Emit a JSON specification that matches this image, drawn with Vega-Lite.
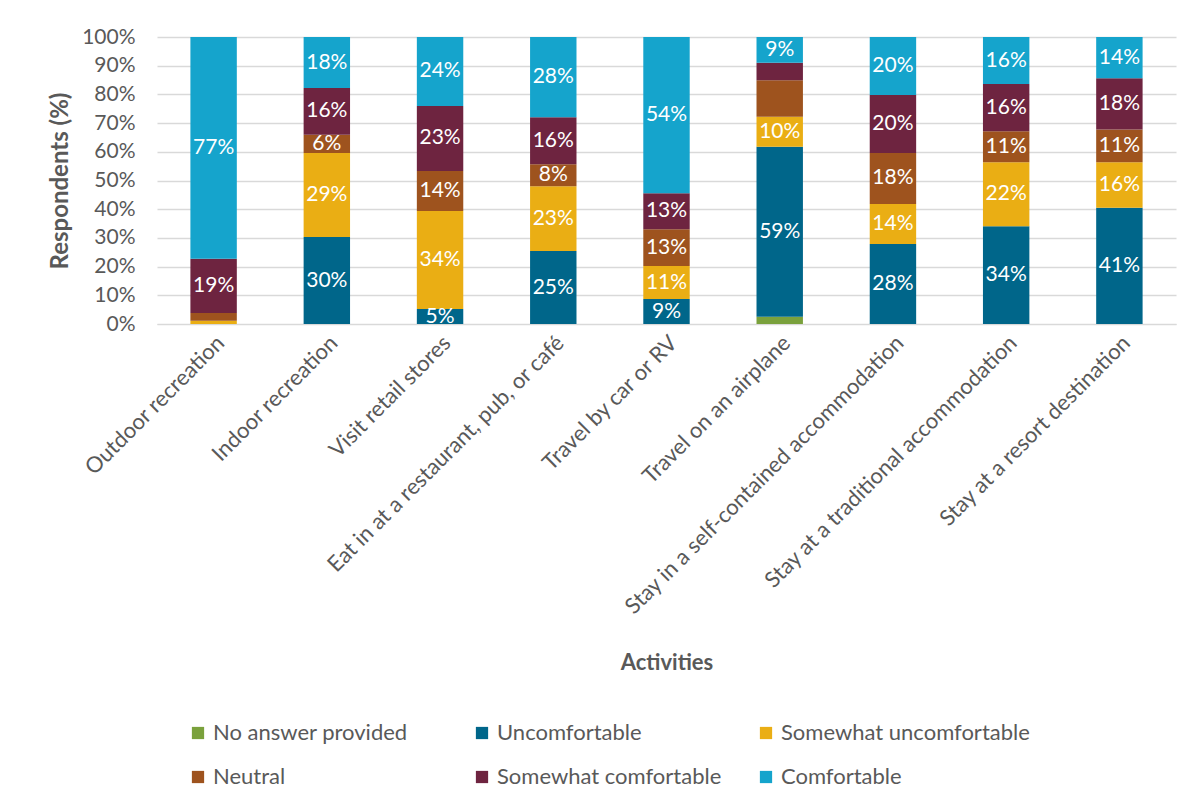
{
  "$schema": "https://vega.github.io/schema/vega-lite/v6.json",
  "width": 1019,
  "height": 287,
  "autosize": {"type": "none"},
  "padding": {"left": 157, "top": 37, "right": 19, "bottom": 485},
  "background": "white",
  "config": {
    "font": "Lato",
    "view": {"stroke": null},
    "axis": {"labelColor": "#595959", "titleColor": "#595959", "labelFont": "Lato", "titleFont": "Lato"},
    "legend": {"labelColor": "#595959", "labelFont": "Lato"}
  },
  "data": {
    "values": [
      {"activity": "Outdoor recreation", "response": "Somewhat uncomfortable", "rank": 2, "value": 1.1, "label": ""},
      {"activity": "Outdoor recreation", "response": "Neutral", "rank": 3, "value": 2.7, "label": ""},
      {"activity": "Outdoor recreation", "response": "Somewhat comfortable", "rank": 4, "value": 18.9, "label": "19%"},
      {"activity": "Outdoor recreation", "response": "Comfortable", "rank": 5, "value": 77.3, "label": "77%"},
      {"activity": "Indoor recreation", "response": "Uncomfortable", "rank": 1, "value": 30.3, "label": "30%"},
      {"activity": "Indoor recreation", "response": "Somewhat uncomfortable", "rank": 2, "value": 29.3, "label": "29%"},
      {"activity": "Indoor recreation", "response": "Neutral", "rank": 3, "value": 6.3, "label": "6%"},
      {"activity": "Indoor recreation", "response": "Somewhat comfortable", "rank": 4, "value": 16.3, "label": "16%"},
      {"activity": "Indoor recreation", "response": "Comfortable", "rank": 5, "value": 17.8, "label": "18%"},
      {"activity": "Visit retail stores", "response": "Uncomfortable", "rank": 1, "value": 5.2, "label": "5%"},
      {"activity": "Visit retail stores", "response": "Somewhat uncomfortable", "rank": 2, "value": 34.2, "label": "34%"},
      {"activity": "Visit retail stores", "response": "Neutral", "rank": 3, "value": 13.9, "label": "14%"},
      {"activity": "Visit retail stores", "response": "Somewhat comfortable", "rank": 4, "value": 22.7, "label": "23%"},
      {"activity": "Visit retail stores", "response": "Comfortable", "rank": 5, "value": 24.0, "label": "24%"},
      {"activity": "Eat in at a restaurant, pub, or café", "response": "Uncomfortable", "rank": 1, "value": 25.4, "label": "25%"},
      {"activity": "Eat in at a restaurant, pub, or café", "response": "Somewhat uncomfortable", "rank": 2, "value": 22.6, "label": "23%"},
      {"activity": "Eat in at a restaurant, pub, or café", "response": "Neutral", "rank": 3, "value": 7.7, "label": "8%"},
      {"activity": "Eat in at a restaurant, pub, or café", "response": "Somewhat comfortable", "rank": 4, "value": 16.3, "label": "16%"},
      {"activity": "Eat in at a restaurant, pub, or café", "response": "Comfortable", "rank": 5, "value": 28.0, "label": "28%"},
      {"activity": "Travel by car or RV", "response": "Uncomfortable", "rank": 1, "value": 8.7, "label": "9%"},
      {"activity": "Travel by car or RV", "response": "Somewhat uncomfortable", "rank": 2, "value": 11.5, "label": "11%"},
      {"activity": "Travel by car or RV", "response": "Neutral", "rank": 3, "value": 12.8, "label": "13%"},
      {"activity": "Travel by car or RV", "response": "Somewhat comfortable", "rank": 4, "value": 12.6, "label": "13%"},
      {"activity": "Travel by car or RV", "response": "Comfortable", "rank": 5, "value": 54.4, "label": "54%"},
      {"activity": "Travel on an airplane", "response": "No answer provided", "rank": 0, "value": 2.5, "label": ""},
      {"activity": "Travel on an airplane", "response": "Uncomfortable", "rank": 1, "value": 59.3, "label": "59%"},
      {"activity": "Travel on an airplane", "response": "Somewhat uncomfortable", "rank": 2, "value": 10.4, "label": "10%"},
      {"activity": "Travel on an airplane", "response": "Neutral", "rank": 3, "value": 12.7, "label": ""},
      {"activity": "Travel on an airplane", "response": "Somewhat comfortable", "rank": 4, "value": 6.1, "label": ""},
      {"activity": "Travel on an airplane", "response": "Comfortable", "rank": 5, "value": 9.0, "label": "9%"},
      {"activity": "Stay in a self-contained accommodation", "response": "Uncomfortable", "rank": 1, "value": 27.9, "label": "28%"},
      {"activity": "Stay in a self-contained accommodation", "response": "Somewhat uncomfortable", "rank": 2, "value": 13.9, "label": "14%"},
      {"activity": "Stay in a self-contained accommodation", "response": "Neutral", "rank": 3, "value": 17.8, "label": "18%"},
      {"activity": "Stay in a self-contained accommodation", "response": "Somewhat comfortable", "rank": 4, "value": 20.2, "label": "20%"},
      {"activity": "Stay in a self-contained accommodation", "response": "Comfortable", "rank": 5, "value": 20.2, "label": "20%"},
      {"activity": "Stay at a traditional accommodation", "response": "Uncomfortable", "rank": 1, "value": 34.1, "label": "34%"},
      {"activity": "Stay at a traditional accommodation", "response": "Somewhat uncomfortable", "rank": 2, "value": 22.3, "label": "22%"},
      {"activity": "Stay at a traditional accommodation", "response": "Neutral", "rank": 3, "value": 10.8, "label": "11%"},
      {"activity": "Stay at a traditional accommodation", "response": "Somewhat comfortable", "rank": 4, "value": 16.4, "label": "16%"},
      {"activity": "Stay at a traditional accommodation", "response": "Comfortable", "rank": 5, "value": 16.4, "label": "16%"},
      {"activity": "Stay at a resort destination", "response": "Uncomfortable", "rank": 1, "value": 40.5, "label": "41%"},
      {"activity": "Stay at a resort destination", "response": "Somewhat uncomfortable", "rank": 2, "value": 15.9, "label": "16%"},
      {"activity": "Stay at a resort destination", "response": "Neutral", "rank": 3, "value": 11.4, "label": "11%"},
      {"activity": "Stay at a resort destination", "response": "Somewhat comfortable", "rank": 4, "value": 17.8, "label": "18%"},
      {"activity": "Stay at a resort destination", "response": "Comfortable", "rank": 5, "value": 14.4, "label": "14%"}
    ]
  },
  "encoding": {
    "x": {
      "field": "activity",
      "type": "nominal",
      "sort": ["Outdoor recreation", "Indoor recreation", "Visit retail stores", "Eat in at a restaurant, pub, or café", "Travel by car or RV", "Travel on an airplane", "Stay in a self-contained accommodation", "Stay at a traditional accommodation", "Stay at a resort destination"],
      "scale": {"paddingInner": 0.59, "paddingOuter": 0.295},
      "axis": {
        "title": "Activities",
        "titleFontSize": 22,
        "titleFontWeight": "bold",
        "titlePadding": 128,
        "labelAngle": -45,
        "labelFontSize": 22,
        "labelPadding": 8,
        "ticks": false,
        "domainColor": "#D9D9D9",
        "labelLimit": 500
      }
    }
  },
  "resolve": {"axis": {"y": "independent"}},
  "layer": [
    {
      "mark": {"type": "bar"},
      "encoding": {
        "y": {
          "field": "value",
          "type": "quantitative",
          "stack": "zero",
          "scale": {"domain": [0, 100], "nice": false},
          "axis": {
            "title": "Respondents (%)",
            "titleFontSize": 24,
            "titleFontWeight": "bold",
            "titlePadding": 9,
            "values": [0, 10, 20, 30, 40, 50, 60, 70, 80, 90, 100],
            "labelExpr": "datum.value + '%'",
            "labelFontSize": 21,
            "labelPadding": 22,
            "ticks": false,
            "domain": false,
            "gridColor": "#D9D9D9",
            "gridWidth": 1.3
          }
        },
        "color": {
          "field": "response",
          "type": "nominal",
          "scale": {
            "domain": ["No answer provided", "Uncomfortable", "Somewhat uncomfortable", "Neutral", "Somewhat comfortable", "Comfortable"],
            "range": ["#7AA13C", "#00668A", "#EAAE14", "#9E531E", "#6E2440", "#15A4CC"]
          },
          "legend": {
            "title": null,
            "orient": "none",
            "legendX": 30,
            "legendY": 685,
            "direction": "horizontal",
            "columns": 3,
            "gridAlign": "all",
            "columnPadding": 9,
            "rowPadding": 22,
            "padding": 0,
            "symbolType": "square",
            "symbolSize": 150,
            "symbolStrokeWidth": 0,
            "labelFontSize": 22,
            "labelOffset": 4,
            "labelLimit": 400
          }
        },
        "order": {"field": "rank", "type": "quantitative"}
      }
    },
    {
      "transform": [
        {"stack": "value", "groupby": ["activity"], "sort": [{"field": "rank", "order": "ascending"}], "as": ["y0", "y1"]},
        {"fold": ["y0", "y1"], "as": ["edge", "pos"]},
        {"aggregate": [{"op": "mean", "field": "pos", "as": "mid"}], "groupby": ["activity", "response", "label"]}
      ],
      "mark": {"type": "text", "color": "white", "fontSize": 21, "font": "Lato"},
      "encoding": {
        "y": {"field": "mid", "type": "quantitative", "axis": null},
        "text": {"field": "label", "type": "nominal"}
      }
    }
  ]
}
